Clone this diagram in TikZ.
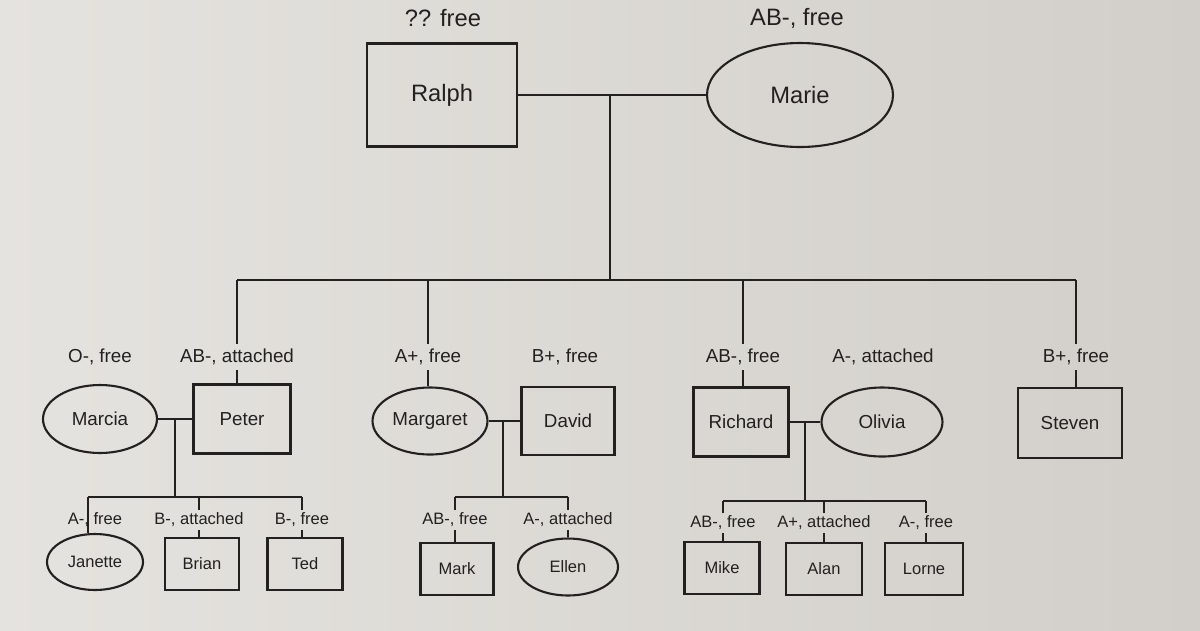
\documentclass[tikz,border=0pt]{standalone}
\usepackage{fontspec}
\setmainfont{Liberation Sans}
\usetikzlibrary{shapes.geometric}
\definecolor{paperl}{RGB}{229,227,223}
\definecolor{paperr}{RGB}{210,207,202}
\definecolor{ink}{RGB}{35,33,31}

\begin{document}
\begin{tikzpicture}[x=0.02cm,y=-0.02cm,line width=1.2pt,color=ink,
  man/.style={draw,rectangle,inner sep=2pt},
  woman/.style={draw,ellipse,inner sep=1pt},
  top/.style={minimum width=3cm,minimum height=2.06cm,font=\fontsize{13.5}{16}\selectfont},
  mid/.style={minimum width=1.9cm,minimum height=1.38cm,font=\fontsize{10.7}{13}\selectfont},
  kid/.style={minimum width=1.5cm,minimum height=1.04cm,font=\fontsize{9.4}{11}\selectfont},
  top tag/.style={font=\fontsize{13.5}{16}\selectfont},
  mid tag/.style={inner ysep=2.5pt,font=\fontsize{10.7}{13}\selectfont},
  kid tag/.style={inner ysep=1.2pt,font=\fontsize{9.4}{11}\selectfont}]

  \shade[left color=paperl,right color=paperr] (0,0) rectangle (1200,630);

  % grandparents
  \node[man,top] (ralph) at (442,95) {Ralph};
  \node[woman,top,minimum width=3.72cm,minimum height=2.08cm] (marie) at (800,95) {Marie};
  \node[top tag] (ralph tag) at (443,18) {?? free};
  \node[top tag] (marie tag) at (797,18) {AB-, free};

  \coordinate (rm) at (610,95);
  \coordinate (rm kids) at (610,280);
  \coordinate (d1) at (237,280);
  \coordinate (d2) at (428,280);
  \coordinate (d3) at (743,280);
  \coordinate (d4) at (1076,280);

  \path (ralph) edge (marie)
        (rm) edge (rm kids)
        (d1) edge (d4);

  % children and partners
  \node[woman,mid,minimum width=2.28cm,minimum height=1.36cm] (marcia) at (100,419) {Marcia};
  \node[man,mid,minimum width=1.94cm] (peter) at (242,419) {Peter};
  \node[woman,mid,minimum width=2.3cm,minimum height=1.34cm] (margaret) at (430,421) {Margaret};
  \node[man,mid,minimum width=1.86cm,minimum height=1.36cm] (david) at (568,421) {David};
  \node[man,mid] (richard) at (741,422) {Richard};
  \node[woman,mid,minimum width=2.42cm] (olivia) at (882,422) {Olivia};
  \node[man,mid,minimum width=2.08cm,minimum height=1.4cm] (steven) at (1070,423) {Steven};

  \node[mid tag] (marcia tag) at (100,357) {O-, free};
  \node[mid tag] (peter tag) at (237,357) {AB-, attached};
  \node[mid tag] (margaret tag) at (428,357) {A+, free};
  \node[mid tag] (david tag) at (565,357) {B+, free};
  \node[mid tag] (richard tag) at (743,357) {AB-, free};
  \node[mid tag] (olivia tag) at (883,357) {A-, attached};
  \node[mid tag] (steven tag) at (1076,357) {B+, free};

  \draw (d1) -- (peter tag.north) (peter tag.south) -- (peter tag.south |- peter.north);
  \draw (d2) -- (margaret tag.north) (margaret tag.south) -- (margaret tag.south |- margaret.north);
  \draw (d3) -- (richard tag.north) (richard tag.south) -- (richard tag.south |- richard.north);
  \draw (d4) -- (steven tag.north) (steven tag.south) -- (steven tag.south |- steven.north);

  \path (marcia) edge (peter)
        (margaret) edge (david)
        (richard) edge (olivia);

  % Marcia and Peter's kids
  \coordinate (mp) at (175,419);
  \coordinate (mp kids) at (175,497);
  \coordinate (k1) at (88,497);
  \coordinate (k2) at (199,497);
  \coordinate (k3) at (302,497);
  \path (mp) edge (mp kids)
        (k1) edge (k3);

  \node[woman,kid,minimum width=1.92cm,minimum height=1.12cm] (janette) at (95,562) {Janette};
  \node[man,kid,minimum width=1.48cm] (brian) at (202,564) {Brian};
  \node[man,kid] (ted) at (305,564) {Ted};

  \node[kid tag] (janette tag) at (95,520) {A-, free};
  \node[kid tag] (brian tag) at (199,520) {B-, attached};
  \node[kid tag] (ted tag) at (302,520) {B-, free};

  \draw (k1) -- (k1 |- janette.north);
  \draw (k2) -- (brian tag.north) (brian tag.south) -- (brian tag.south |- brian.north);
  \draw (k3) -- (ted tag.north) (ted tag.south) -- (ted tag.south |- ted.north);

  % Margaret and David's kids
  \coordinate (md) at (503,421);
  \coordinate (md kids) at (503,497);
  \coordinate (k4) at (455,497);
  \coordinate (k5) at (568,497);
  \path (md) edge (md kids)
        (k4) edge (k5);

  \node[man,kid,minimum width=1.46cm] (mark) at (457,569) {Mark};
  \node[woman,kid,minimum width=2cm,minimum height=1.14cm] (ellen) at (568,567) {Ellen};

  \node[kid tag] (mark tag) at (455,520) {AB-, free};
  \node[kid tag] (ellen tag) at (568,520) {A-, attached};

  \draw (k4) -- (mark tag.north) (mark tag.south) -- (mark tag.south |- mark.north);
  \draw (k5) -- (ellen tag.north) (ellen tag.south) -- (ellen.north);

  % Richard and Olivia's kids
  \coordinate (ro) at (805,422);
  \coordinate (ro kids) at (805,501);
  \coordinate (k6) at (723,501);
  \coordinate (k7) at (824,501);
  \coordinate (k8) at (926,501);
  \path (ro) edge (ro kids)
        (k6) edge (k8);

  \node[man,kid] (mike) at (722,568) {Mike};
  \node[man,kid,minimum width=1.52cm] (alan) at (824,569) {Alan};
  \node[man,kid,minimum width=1.56cm] (lorne) at (924,569) {Lorne};

  \node[kid tag] (mike tag) at (723,523) {AB-, free};
  \node[kid tag] (alan tag) at (824,523) {A+, attached};
  \node[kid tag] (lorne tag) at (926,523) {A-, free};

  \draw (k6) -- (mike tag.north) (mike tag.south) -- (mike tag.south |- mike.north);
  \draw (k7) -- (alan tag.north) (alan tag.south) -- (alan tag.south |- alan.north);
  \draw (k8) -- (lorne tag.north) (lorne tag.south) -- (lorne tag.south |- lorne.north);

\end{tikzpicture}
\end{document}
